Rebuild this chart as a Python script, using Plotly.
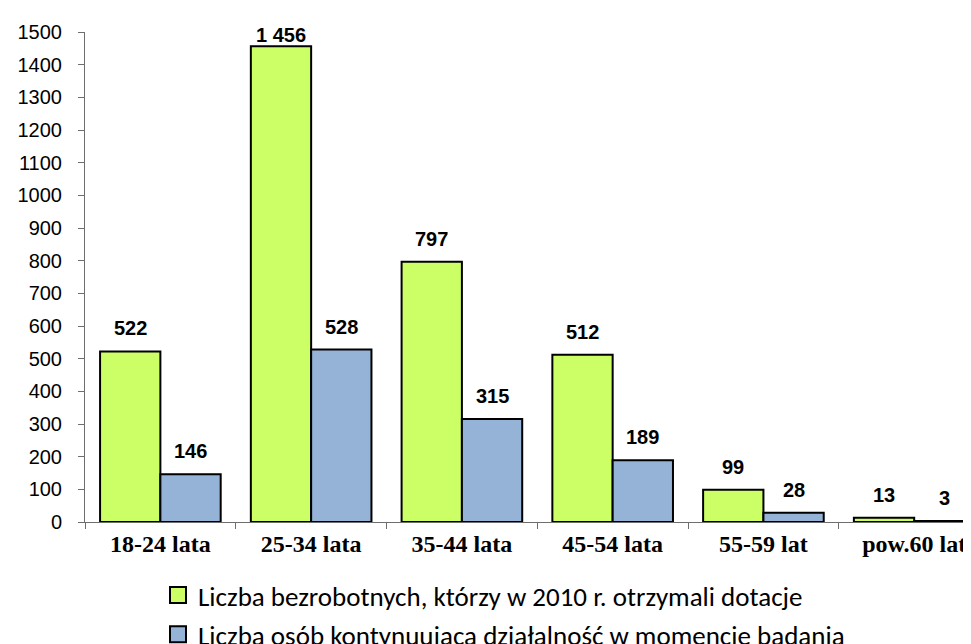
import plotly.graph_objects as go

categories = ["18-24 lata", "25-34 lata", "35-44 lata", "45-54 lata", "55-59 lat", "pow.60 lat"]
dotacje = [522, 1456, 797, 512, 99, 13]
kontynuacja = [146, 528, 315, 189, 28, 3]
series_names = [
    "Liczba bezrobotnych, którzy w 2010 r. otrzymali dotacje",
    "Liczba osób kontynuująca działalność w momencie badania",
]
y_ticks = list(range(0, 1501, 100))

GREEN = "#CCFF66"
BLUE = "#95B3D7"
AXIS = "#6e6e6e"
BARGAP = 0.2
YMAX = 1500

def fmt(v):
    return f"{v:,}".replace(",", " ")

fig = go.Figure()
for vals, col in [(dotacje, GREEN), (kontynuacja, BLUE)]:
    fig.add_trace(go.Bar(
        x=categories, y=vals, marker=dict(color=col, line=dict(color="black", width=2)),
        showlegend=False, hoverinfo="skip",
    ))
# legend entries (square swatches)
for k, (name, col) in enumerate(zip(series_names, [GREEN, BLUE])):
    fig.add_trace(go.Scatter(
        x=[None], y=[None], mode="markers", name=name, legendgroup=f"g{k}",
        marker=dict(symbol="square", size=17, color=col, line=dict(color="black", width=2)),
    ))

# data labels
half = (1 - BARGAP) / 4
annotations = []
for k, vals in enumerate([dotacje, kontynuacja]):
    off = -half if k == 0 else half
    for i, v in enumerate(vals):
        annotations.append(dict(
            x=i + off, y=min(v, YMAX - 79), xref="x", yref="y", text=f"<b>{fmt(v)}</b>",
            showarrow=False, yanchor="bottom", yshift=10,
            font=dict(family="Liberation Sans, Arial", size=20, color="black"),
        ))

fig.update_layout(
    width=971, height=644,
    margin=dict(l=77, r=3, t=24, b=130, autoexpand=False),
    paper_bgcolor="white", plot_bgcolor="white",
    barmode="group", bargap=BARGAP, bargroupgap=0,
    annotations=annotations,
    legend=dict(
        orientation="v", xref="container", yref="container",
        x=150 / 971, y=1 - 563 / 644, xanchor="left", yanchor="top",
        font=dict(family="Calibri, Carlito, Lato", size=27, color="black"),
        itemwidth=30, tracegroupgap=1,
    ),
    xaxis=dict(
        type="category", range=[-0.5, 5.41], tickangle=0,
        showline=True, linecolor=AXIS, linewidth=1,
        ticks="outside", tickson="boundaries", ticklen=6, tickcolor=AXIS,
        tickfont=dict(family="Liberation Serif, Times New Roman", size=24, color="black", weight="bold"),
        showgrid=False, zeroline=False,
    ),
    yaxis=dict(
        range=[0, YMAX], tickvals=y_ticks,
        showline=True, linecolor=AXIS, linewidth=1,
        ticks="outside", ticklen=6, tickcolor=AXIS,
        tickfont=dict(family="Liberation Sans, Arial", size=20, color="black"),
        showgrid=False, zeroline=False, ticklabelstandoff=12,
    ),
)

fig.write_html("out.html")
